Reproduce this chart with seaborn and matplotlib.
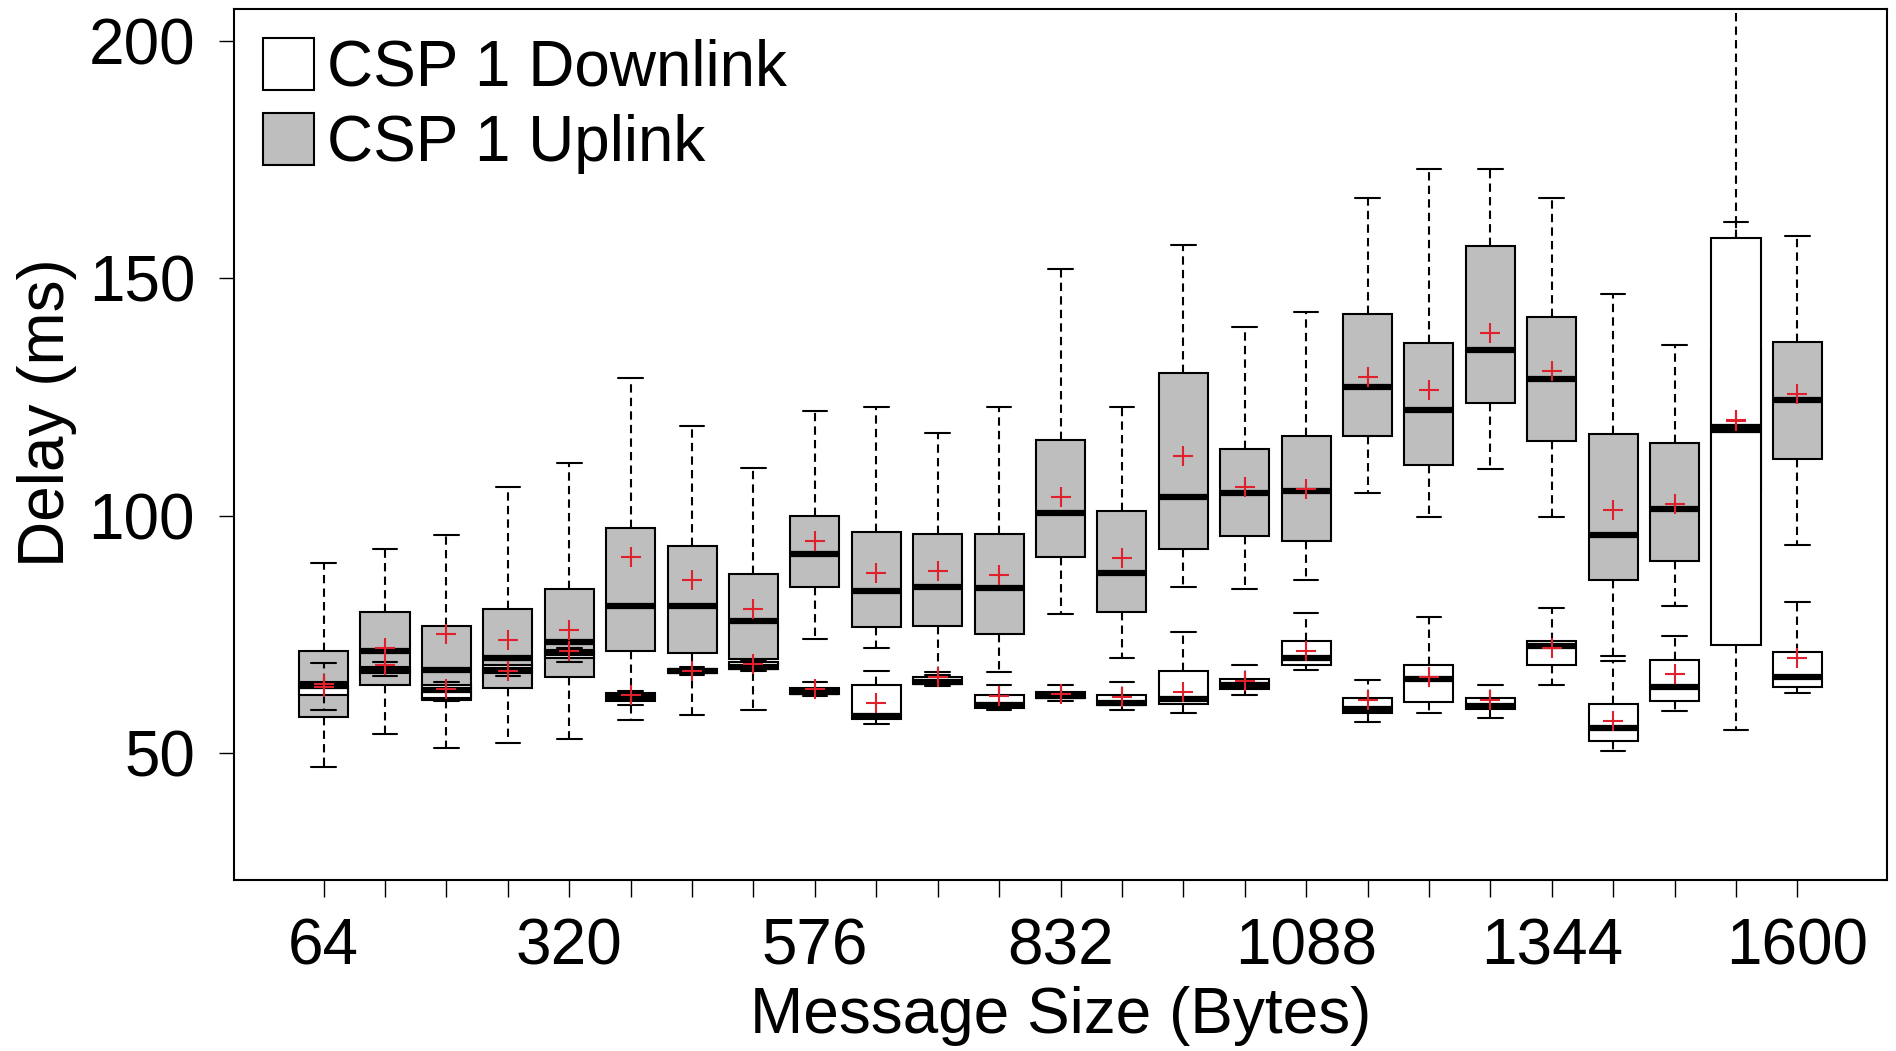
import pandas as pd
import matplotlib
matplotlib.use('Agg')
import matplotlib.pyplot as plt
import seaborn as sns
from matplotlib.patches import Patch

# message sizes (bytes), one box pair per size
sizes = [64, 128, 192, 256, 320, 384, 448, 512, 576, 640, 704, 768, 832,
         896, 960, 1024, 1088, 1152, 1216, 1280, 1344, 1408, 1472, 1536, 1600]
shown_labels = [64, 320, 576, 832, 1088, 1344, 1600]

# CSP 1 Uplink (grey): whisker low, Q1, median, Q3, whisker high, mean  [ms]
up_lo = [47, 54, 51, 52, 53, 57, 58, 59, 74, 72, 67, 67, 79.3, 70, 85, 84.6,
         86.5, 104.8, 99.7, 109.8, 99.7, 70.5, 80.9, 85, 93.8]
up_q1 = [57.5, 64.4, 61.2, 63.6, 66, 71.5, 71.1, 69.8, 85, 76.5, 76.8, 75, 91.2,
         79.6, 93, 95.7, 94.7, 116.8, 110.7, 123.8, 115.7, 86.5, 90.4, 105, 111.9]
up_med = [64, 71.5, 67.5, 70, 73.3, 81, 81, 77.7, 92, 84.2, 85, 84.7, 100.5,
          88, 104, 104.7, 105.1, 127.1, 122.3, 135, 128.9, 95.9, 101.4, 118, 124.3]
up_q3 = [71.5, 79.6, 76.8, 80.3, 84.6, 97.4, 93.5, 87.7, 100, 96.6, 96.2, 96.2,
         116, 101, 130, 114.1, 116.7, 142.5, 136.4, 156.8, 141.8, 117.2, 115.3,
         135, 136.6]
up_hi = [90, 93, 96, 106, 111, 129, 119, 110, 122, 123, 117.4, 123, 152, 123,
         157, 139.7, 143, 167, 173, 173, 167, 146.7, 135.9, 162, 158.9]
up_mean = [64.5, 72, 75, 73.8, 76, 91.2, 86.5, 80.3, 94.7, 88, 88.4, 87.4, 104,
           91, 112.5, 106, 105.6, 129.3, 126.5, 138.4, 130.4, 101.2, 102.5, 120,
           125.6]

# CSP 1 Downlink (white)
dn_lo = [59, 66.1, 61, 66.1, 69.1, 60, 66.5, 67.2, 62, 56.1, 64, 59, 61, 59,
         58.4, 62.3, 67.4, 56.6, 58.4, 57.3, 64.2, 50.3, 58.8, 54.8, 62.7]
dn_q1 = [62.3, 66.8, 61.5, 66.8, 70, 61, 66.8, 67.6, 62.4, 57.2, 64.5, 59.5,
         61.6, 60, 60.3, 63.5, 68.5, 58.4, 60.7, 59.2, 68.5, 52.4, 60.9, 72.8, 63.9]
dn_med = [64.3, 67.5, 63.2, 67.5, 71, 61.8, 67.2, 68.2, 62.8, 57.8, 65, 60, 62,
          60.5, 61.4, 64.2, 70.1, 59.3, 65.6, 59.9, 72.6, 55.3, 63.9, 118.7, 65.9]
dn_q3 = [65, 68.2, 64.2, 68.5, 71.7, 62.6, 67.6, 69.1, 63.6, 64.2, 66, 62.2,
         62.8, 62.2, 67.3, 65.6, 73.6, 61.6, 68.6, 61.6, 73.6, 60.3, 69.5, 158.6,
         71.2]
dn_hi = [69, 69.1, 65, 69.5, 72.2, 63, 68, 69.6, 64.9, 67.2, 66.5, 64.2, 64.2,
         64.9, 75.5, 68.5, 79.4, 65.4, 78.6, 64.2, 80.6, 69.3, 74.6, 230, 81.7]
dn_mean = [63.8, 68.5, 63.5, 67.3, 71.5, 62.3, 67.2, 68.7, 63.5, 60.6, 66, 62,
           62.4, 61.8, 62.9, 65.2, 71.4, 61.2, 65.9, 61.2, 72.2, 56.8, 66.7, 120.1,
           69.9]

order = [str(s) for s in sizes]


def summary_frame(lo, q1, med, q3, hi):
    # five points per size reproduce the five-number summary exactly
    rows = []
    for s, *vals in zip(sizes, lo, q1, med, q3, hi):
        for v in vals:
            rows.append({'size': str(s), 'delay': v})
    return pd.DataFrame(rows)


up_df = summary_frame(up_lo, up_q1, up_med, up_q3, up_hi)
dn_df = summary_frame(dn_lo, dn_q1, dn_med, dn_q3, dn_hi)
mean_df = pd.DataFrame({'size': order + order, 'delay': up_mean + dn_mean})

sns.set_style('white')
plt.rcParams['font.family'] = ['Liberation Sans', 'DejaVu Sans']
plt.rcParams['text.color'] = 'black'
plt.rcParams['axes.labelcolor'] = 'black'
plt.rcParams['xtick.color'] = 'black'
plt.rcParams['ytick.color'] = 'black'

fs = 46
fig = plt.figure(figsize=(18.96, 10.51), dpi=100)
ax = fig.add_axes([234 / 1896, 1 - 880 / 1051, (1887 - 234) / 1896, (880 - 9) / 1051])

box_kw = dict(x='size', y='delay', order=order, width=0.8, whis=(0, 100),
              saturation=1, linecolor='black', linewidth=1.5, showfliers=False,
              whiskerprops=dict(linestyle=(0, (4, 2.5))),
              medianprops=dict(linewidth=4.5, color='black'), ax=ax)
sns.boxplot(data=up_df, color='#BEBEBE', **box_kw)
sns.boxplot(data=dn_df, color='white', **box_kw)
sns.stripplot(data=mean_df, x='size', y='delay', order=order, jitter=False,
              marker='+', size=15, linewidth=1.5, color='#E0202A', ax=ax)
for c in ax.collections:
    c.set_zorder(10)

ax.set_xlim(-1.46, 25.46)
ax.set_ylim(23.2, 206.8)
ax.set_yticks([50, 100, 150, 200])
ax.set_xticks(range(len(sizes)))
ax.set_xticklabels([str(s) if s in shown_labels else '' for s in sizes])
ax.tick_params(axis='x', length=12, width=1, pad=15, labelsize=fs, direction='out')
ax.tick_params(axis='y', length=11, width=1, pad=17, labelsize=fs, direction='out')
ax.tick_params(bottom=True, left=True)
for sp in ax.spines.values():
    sp.set_linewidth(1.5)
    sp.set_color('black')

ax.set_xlabel('Message Size (Bytes)', fontsize=fs, labelpad=6)
ax.set_ylabel('Delay (ms)', fontsize=fs)
ax.yaxis.set_label_coords(-0.095, 0.537)

handles = [Patch(facecolor='white', edgecolor='black', linewidth=1.5, label='CSP 1 Downlink'),
           Patch(facecolor='#BEBEBE', edgecolor='black', linewidth=1.5, label='CSP 1 Uplink')]
ax.legend(handles=handles, loc='upper left', frameon=False, fontsize=fs,
          handlelength=0.8, handleheight=0.87, handletextpad=0.2,
          labelspacing=0.22, borderaxespad=0.25, borderpad=0.2)

fig.savefig('out.png', dpi=100)
